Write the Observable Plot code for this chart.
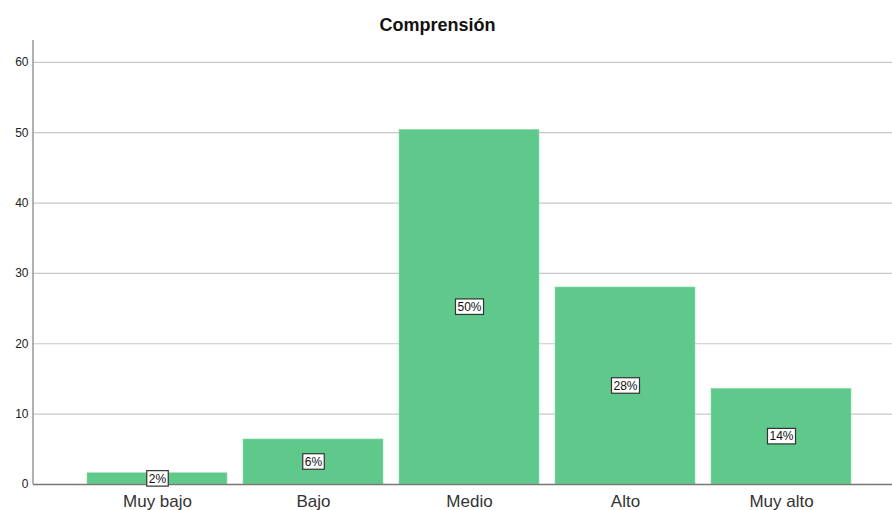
<!DOCTYPE html>
<html>
<head>
<meta charset="utf-8">
<script src="https://cdn.jsdelivr.net/npm/d3@7"></script>
<script src="https://cdn.jsdelivr.net/npm/@observablehq/plot@0.6"></script>
<style>
  body { margin: 0; background: #fff; font-family: "Liberation Sans", Arial, sans-serif; }
  #wrap { position: relative; width: 892px; }
  #title { height: 40px; position: relative; }
  #title span { position: absolute; left: 437.5px; top: 15px; transform: translateX(-50%);
    font-weight: bold; font-size: 18px; color: #111; white-space: nowrap; }
  svg { display: block; }
</style>
</head>
<body>
<div id="wrap">
  <div id="title"><span>Comprensión</span></div>
  <div id="chart"></div>
</div>
<script>
const categories = ["Muy bajo", "Bajo", "Medio", "Alto", "Muy alto"];
const values = [1.6, 6.4, 50.4, 28.0, 13.6];
const labels = ["2%", "6%", "50%", "28%", "14%"];
const yTicks = [0, 10, 20, 30, 40, 50, 60];

const data = categories.map((c, i) => ({category: c, value: values[i], label: labels[i]}));

const leftAxisLine = (index, scales, vals, dims) => {
  const l = document.createElementNS("http://www.w3.org/2000/svg", "line");
  l.setAttribute("x1", dims.marginLeft);
  l.setAttribute("x2", dims.marginLeft);
  l.setAttribute("y1", dims.marginTop);
  l.setAttribute("y2", dims.height - dims.marginBottom);
  l.setAttribute("stroke", "#888");
  l.setAttribute("stroke-width", 1.3);
  return l;
};

const num = v => (v != null && /^-?[\d.]+$/.test(v.trim())) ? +v : 0;

const boxedText = (index, scales, vals, dims, ctx, next) => {
  const g = next(index, scales, vals, dims, ctx);
  const texts = Array.from(g.querySelectorAll("text"));
  texts.forEach(t => {
    const n = t.textContent.length;
    const w = 6.5 * n + 8.5;
    const h = 15.5;
    const r = document.createElementNS("http://www.w3.org/2000/svg", "rect");
    r.setAttribute("x", num(t.getAttribute("x")) - w / 2);
    r.setAttribute("y", num(t.getAttribute("y")) - h / 2 - 0.5);
    r.setAttribute("width", w);
    r.setAttribute("height", h);
    r.setAttribute("fill", "#fff");
    r.setAttribute("stroke", "#333");
    r.setAttribute("stroke-width", 1.2);
    const tr = t.getAttribute("transform");
    if (tr) r.setAttribute("transform", tr);
    t.parentNode.insertBefore(r, t);
  });
  return g;
};

const chart = Plot.plot({
  width: 892,
  height: 470,
  marginTop: 0,
  marginLeft: 33,
  marginRight: 0,
  marginBottom: 26,
  style: {fontFamily: "'Liberation Sans', Arial, sans-serif", background: "#fff"},
  x: {domain: categories, range: [78, 860.5], paddingInner: 0.105, paddingOuter: 0.0525, label: null},
  y: {domain: [0, 63.1], label: null},
  marks: [
    Plot.ruleY(yTicks.filter(d => d > 0), {stroke: "#c8c8c8", strokeWidth: 1.2}),
    Plot.barY(data, {x: "category", y: "value", fill: "#5ec98a", stroke: "#8fdcae", strokeWidth: 0.6}),
    Plot.ruleY([0], {stroke: "#777", strokeWidth: 1.3}),
    leftAxisLine,
    Plot.axisY({ticks: yTicks, tickSize: 0, tickPadding: 5, fontSize: 12, fill: "#222", label: null}),
    Plot.axisX({tickSize: 0, tickPadding: 10, fontSize: 17, fill: "#333", label: null}),
    Plot.text(data, {x: "category", y: d => d.value / 2, text: "label", fontSize: 12, fill: "#111", render: boxedText})
  ]
});
document.getElementById("chart").appendChild(chart);
</script>
</body>
</html>
